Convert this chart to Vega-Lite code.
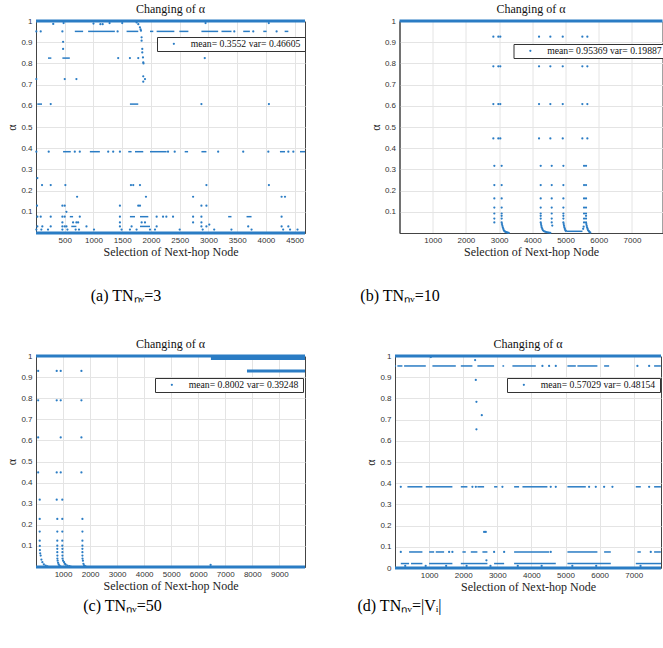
{
"$schema": "https://vega.github.io/schema/vega-lite/v6.json",
"padding": {"left": 5, "top": 2, "right": 0, "bottom": 0},
"background": "white",
"config": {
 "view": {"stroke": "#444", "strokeWidth": 1},
 "axis": {"grid": true, "gridColor": "#e4e4e4", "gridWidth": 1, "domain": true, "domainColor": "#444", "domainWidth": 1, "ticks": false, "labelFont": "Liberation Sans", "labelFontSize": 8, "labelColor": "#333", "labelPadding": 3, "labelOverlap": false, "labelFlush": false, "labelSeparation": 0, "titleFont": "Liberation Serif", "titleFontSize": 12, "titleFontWeight": "normal", "titleColor": "#222"},
 "axisQuantitative": {"labelOverlap": false},
 "axisX": {"titlePadding": 2, "format": "d", "labelOverlap": false},
 "axisY": {"titlePadding": 2, "labelOverlap": false, "labelPadding": 4},
 "legend": {"strokeColor": "#333", "fillColor": "white", "padding": 2, "labelFont": "Liberation Serif", "labelFontSize": 9.7, "labelColor": "#111", "symbolType": "circle", "symbolSize": 5, "symbolStrokeWidth": 0, "symbolOffset": 10, "labelOffset": 12},
 "title": {"font": "Liberation Serif", "fontSize": 12, "fontWeight": "normal", "color": "#111", "offset": 1}
},
"datasets": {
 "a_b": [{"x":0,"x2":4680,"y":1},{"x":0,"x2":4680,"y":0}],
 "a_r": [
  {"x":675,"x2":820,"y":0.951},{"x":907,"x2":1372,"y":0.951},{"x":1576,"x2":1779,"y":0.951},{"x":1983,"x2":2041,"y":0.951},{"x":2099,"x2":2407,"y":0.951},{"x":2494,"x2":2651,"y":0.951},{"x":2878,"x2":3169,"y":0.951},{"x":3227,"x2":3401,"y":0.951},{"x":3605,"x2":3721,"y":0.951},{"x":3954,"x2":4012,"y":0.951},{"x":4326,"x2":4390,"y":0.951},
  {"x":471,"x2":605,"y":0.3835},{"x":937,"x2":1111,"y":0.3835},{"x":1605,"x2":1663,"y":0.3835},{"x":1722,"x2":1866,"y":0.3835},{"x":1983,"x2":2273,"y":0.3835},{"x":2587,"x2":2646,"y":0.3835},{"x":2878,"x2":2965,"y":0.3835},{"x":4244,"x2":4332,"y":0.3835},{"x":4593,"x2":4680,"y":0.3835},
  {"x":209,"x2":267,"y":0.825},{"x":459,"x2":588,"y":0.825},
  {"x":23,"x2":105,"y":0.608},{"x":1634,"x2":1779,"y":0.608},
  {"x":588,"x2":645,"y":0.077},{"x":1634,"x2":1722,"y":0.077},{"x":1809,"x2":1954,"y":0.077},{"x":3343,"x2":3401,"y":0.077},{"x":3663,"x2":3750,"y":0.077},
  {"x":614,"x2":703,"y":0.031},{"x":1809,"x2":1983,"y":0.031}
 ],
 "a_p": [
  {"x":300,"y":0.986},{"x":480,"y":0.99},{"x":1000,"y":0.988},{"x":1120,"y":0.985},{"x":1160,"y":0.985},{"x":1280,"y":0.99},{"x":1500,"y":0.99},{"x":2950,"y":0.99},{"x":4050,"y":0.99},
  {"x":6,"y":0.951},{"x":82,"y":0.951},{"x":459,"y":0.951},{"x":1420,"y":0.951},{"x":3450,"y":0.951},{"x":3780,"y":0.951},{"x":4186,"y":0.951},
  {"x":1750,"y":0.993},{"x":1780,"y":0.985},{"x":1808,"y":0.97},{"x":1820,"y":0.96},{"x":1826,"y":0.954},{"x":1837,"y":0.923},{"x":1837,"y":0.907},{"x":1849,"y":0.868},{"x":1849,"y":0.852},{"x":1861,"y":0.828},{"x":1866,"y":0.805},{"x":1870,"y":0.8},{"x":1866,"y":0.739},{"x":1896,"y":0.726},{"x":1866,"y":0.714},
  {"x":471,"y":0.902},{"x":471,"y":0.868},
  {"x":1430,"y":0.825},{"x":1634,"y":0.825},{"x":1779,"y":0.825},{"x":2936,"y":0.825},
  {"x":6,"y":0.726},{"x":500,"y":0.726},{"x":703,"y":0.726},
  {"x":256,"y":0.608},{"x":2878,"y":0.608},{"x":4052,"y":0.608},
  {"x":6,"y":0.3835},{"x":221,"y":0.3835},{"x":675,"y":0.3835},{"x":762,"y":0.3835},{"x":1256,"y":0.3835},{"x":1343,"y":0.3835},{"x":1460,"y":0.3835},{"x":2297,"y":0.3835},{"x":2413,"y":0.3835},{"x":3169,"y":0.3835},{"x":3605,"y":0.3835},{"x":4042,"y":0.3835},{"x":4390,"y":0.3835},{"x":4477,"y":0.3835},
  {"x":23,"y":0.259},
  {"x":105,"y":0.226},{"x":256,"y":0.226},{"x":511,"y":0.226},{"x":1652,"y":0.226},{"x":1692,"y":0.226},{"x":1809,"y":0.226},{"x":2965,"y":0.226},{"x":4052,"y":0.226},
  {"x":715,"y":0.171},{"x":1913,"y":0.171},{"x":2733,"y":0.171},{"x":4273,"y":0.171},{"x":4332,"y":0.171},
  {"x":17,"y":0.129},{"x":459,"y":0.129},{"x":500,"y":0.129},{"x":1460,"y":0.129},{"x":1779,"y":0.129},{"x":1809,"y":0.129},{"x":2878,"y":0.129},{"x":2965,"y":0.129},
  {"x":529,"y":0.1},
  {"x":23,"y":0.077},{"x":82,"y":0.077},{"x":256,"y":0.077},{"x":459,"y":0.077},{"x":500,"y":0.077},{"x":762,"y":0.077},{"x":1460,"y":0.077},{"x":2099,"y":0.077},{"x":2210,"y":0.077},{"x":2268,"y":0.077},{"x":2384,"y":0.077},{"x":2733,"y":0.077},{"x":2878,"y":0.077},{"x":4273,"y":0.077},
  {"x":459,"y":0.05},{"x":645,"y":0.05},{"x":703,"y":0.05},{"x":733,"y":0.05},{"x":1460,"y":0.05},{"x":1838,"y":0.05},{"x":1896,"y":0.05},{"x":2733,"y":0.05},{"x":2878,"y":0.05},{"x":3015,"y":0.04},
  {"x":23,"y":0.031},{"x":110,"y":0.031},{"x":256,"y":0.031},{"x":459,"y":0.031},{"x":500,"y":0.031},{"x":530,"y":0.031},{"x":878,"y":0.031},{"x":1460,"y":0.031},{"x":1663,"y":0.031},{"x":2099,"y":0.031},{"x":2878,"y":0.031},{"x":2965,"y":0.031},{"x":3692,"y":0.031},{"x":4273,"y":0.031},{"x":4390,"y":0.031},
  {"x":6,"y":0.016},{"x":93,"y":0.016},{"x":209,"y":0.016},{"x":459,"y":0.016},{"x":547,"y":0.016},{"x":690,"y":0.016},{"x":748,"y":0.016},{"x":1009,"y":0.016},{"x":1489,"y":0.016},{"x":1634,"y":0.016},{"x":1750,"y":0.016},{"x":1983,"y":0.016},{"x":2070,"y":0.016},{"x":2500,"y":0.016},{"x":2900,"y":0.016},{"x":3100,"y":0.016},{"x":3400,"y":0.016},{"x":3750,"y":0.016},{"x":4300,"y":0.016},{"x":4420,"y":0.016},{"x":4550,"y":0.016}
 ],
 "b_b": [{"x":0,"x2":7920,"y":1}],
 "b_r": [{"x":5030,"x2":5510,"y":0.008}],
 "b_p": [
  {"x":2826,"y":0.926},{"x":2976,"y":0.926},{"x":3036,"y":0.926},{"x":4202,"y":0.926},{"x":4543,"y":0.926},{"x":4916,"y":0.926},{"x":5506,"y":0.926},{"x":5657,"y":0.926},
  {"x":2826,"y":0.786},{"x":2976,"y":0.786},{"x":3036,"y":0.786},{"x":4202,"y":0.786},{"x":4543,"y":0.786},{"x":4916,"y":0.786},{"x":5506,"y":0.786},{"x":5657,"y":0.786},
  {"x":2826,"y":0.608},{"x":2976,"y":0.608},{"x":3036,"y":0.608},{"x":4202,"y":0.608},{"x":4543,"y":0.608},{"x":4916,"y":0.608},{"x":5506,"y":0.608},{"x":5657,"y":0.608},
  {"x":2826,"y":0.446},{"x":2976,"y":0.446},{"x":3036,"y":0.446},{"x":4202,"y":0.446},{"x":4543,"y":0.446},{"x":4916,"y":0.446},{"x":5506,"y":0.446},{"x":5657,"y":0.446},
  {"x":2856,"y":0.317},{"x":3077,"y":0.317},{"x":4252,"y":0.317},{"x":4584,"y":0.317},{"x":4935,"y":0.317},{"x":5557,"y":0.317},{"x":5617,"y":0.317},
  {"x":2856,"y":0.226},{"x":3077,"y":0.226},{"x":4252,"y":0.226},{"x":4584,"y":0.226},{"x":4935,"y":0.226},{"x":5557,"y":0.226},{"x":5617,"y":0.226},
  {"x":2856,"y":0.163},{"x":3077,"y":0.163},{"x":4252,"y":0.163},{"x":4584,"y":0.163},{"x":4935,"y":0.163},{"x":5557,"y":0.163},{"x":5617,"y":0.163},
  {"x":2856,"y":0.12},{"x":3077,"y":0.12},{"x":4252,"y":0.12},{"x":4584,"y":0.12},{"x":4935,"y":0.12},{"x":5557,"y":0.12},{"x":5617,"y":0.12},
  {"x":2856,"y":0.092},{"x":3077,"y":0.092},{"x":4252,"y":0.092},{"x":4584,"y":0.092},{"x":4935,"y":0.092},{"x":5557,"y":0.092},{"x":5617,"y":0.092},
  {"x":3077,"y":0.081},{"x":4252,"y":0.081},{"x":4935,"y":0.081},{"x":5617,"y":0.081},
  {"x":2856,"y":0.068},{"x":3077,"y":0.068},{"x":4252,"y":0.068},{"x":4584,"y":0.068},{"x":4935,"y":0.068},{"x":5557,"y":0.068},{"x":5617,"y":0.068},
  {"x":2856,"y":0.05},{"x":3077,"y":0.05},{"x":4252,"y":0.05},{"x":4584,"y":0.05},{"x":4935,"y":0.05},{"x":5557,"y":0.05},{"x":5617,"y":0.05},
  {"x":3087,"y":0.042},{"x":3097,"y":0.034},{"x":3112,"y":0.026},{"x":3127,"y":0.019},{"x":3142,"y":0.013},{"x":3157,"y":0.009},{"x":3182,"y":0.006},{"x":3208,"y":0.004},{"x":3233,"y":0.003},{"x":3258,"y":0.002},{"x":3290,"y":0.001},
  {"x":4262,"y":0.042},{"x":4272,"y":0.034},{"x":4282,"y":0.026},{"x":4300,"y":0.019},{"x":4320,"y":0.013},{"x":4345,"y":0.009},{"x":4383,"y":0.006},{"x":4420,"y":0.004},{"x":4460,"y":0.003},{"x":4500,"y":0.002},{"x":4540,"y":0.001},
  {"x":4600,"y":0.035},
  {"x":4945,"y":0.042},{"x":4955,"y":0.034},{"x":4965,"y":0.026},{"x":4980,"y":0.019},{"x":4995,"y":0.013},{"x":5010,"y":0.01},
  {"x":5530,"y":0.02},{"x":5545,"y":0.03},
  {"x":5627,"y":0.042},{"x":5637,"y":0.034},{"x":5650,"y":0.026},{"x":5665,"y":0.019},{"x":5680,"y":0.013},{"x":5700,"y":0.009},{"x":5720,"y":0.005},{"x":5745,"y":0.002}
 ],
 "c_b": [{"x":0,"x2":9950,"y":1},{"x":6470,"x2":9950,"y":0.988},{"x":7804,"x2":9950,"y":0.929},{"x":0,"x2":9950,"y":0}],
 "c_p": [
  {"x":80,"y":0.929},{"x":766,"y":0.929},{"x":914,"y":0.929},{"x":1680,"y":0.929},
  {"x":80,"y":0.79},{"x":766,"y":0.79},{"x":914,"y":0.79},{"x":1680,"y":0.79},
  {"x":80,"y":0.614},{"x":914,"y":0.614},{"x":1680,"y":0.614},
  {"x":80,"y":0.448},{"x":766,"y":0.448},{"x":914,"y":0.448},{"x":1680,"y":0.448},
  {"x":137,"y":0.319},{"x":766,"y":0.319},{"x":973,"y":0.319},
  {"x":137,"y":0.228},{"x":788,"y":0.228},{"x":973,"y":0.228},{"x":1717,"y":0.228},
  {"x":137,"y":0.168},{"x":788,"y":0.168},{"x":973,"y":0.168},{"x":1717,"y":0.168},
  {"x":137,"y":0.125},{"x":788,"y":0.125},{"x":973,"y":0.125},{"x":1717,"y":0.125},
  {"x":788,"y":0.101},{"x":973,"y":0.101},{"x":1717,"y":0.101},
  {"x":788,"y":0.086},{"x":977,"y":0.086},{"x":1717,"y":0.086},
  {"x":788,"y":0.07},{"x":977,"y":0.07},{"x":1717,"y":0.07},
  {"x":791,"y":0.054},{"x":977,"y":0.054},{"x":1717,"y":0.054},
  {"x":140,"y":0.1},{"x":145,"y":0.08},{"x":155,"y":0.065},{"x":173,"y":0.054},{"x":200,"y":0.035},{"x":236,"y":0.023},{"x":290,"y":0.013},{"x":357,"y":0.007},{"x":420,"y":0.003},
  {"x":791,"y":0.04},{"x":800,"y":0.03},{"x":816,"y":0.02},{"x":840,"y":0.012},{"x":870,"y":0.006},{"x":910,"y":0.002},
  {"x":980,"y":0.04},{"x":1000,"y":0.03},{"x":1038,"y":0.023},{"x":1070,"y":0.015},{"x":1100,"y":0.011},{"x":1162,"y":0.007},{"x":1230,"y":0.004},{"x":1285,"y":0.002},
  {"x":1720,"y":0.04},{"x":1735,"y":0.03},{"x":1754,"y":0.015},{"x":1780,"y":0.008},{"x":1804,"y":0.004},{"x":1840,"y":0.002},
  {"x":6459,"y":0.01}
 ],
 "d_b": [{"x":0,"x2":7800,"y":1},{"x":0,"x2":7800,"y":0}],
 "d_r": [
  {"x":0,"x2":30,"y":0.953},{"x":70,"x2":217,"y":0.953},{"x":267,"x2":903,"y":0.953},{"x":1097,"x2":1783,"y":0.953},{"x":1930,"x2":2270,"y":0.953},{"x":2416,"x2":2906,"y":0.953},{"x":3150,"x2":3200,"y":0.953},{"x":3443,"x2":4129,"y":0.953},{"x":5056,"x2":5302,"y":0.953},{"x":5349,"x2":5935,"y":0.953},{"x":6132,"x2":6279,"y":0.953},{"x":7598,"x2":7795,"y":0.953},
  {"x":364,"x2":804,"y":0.383},{"x":902,"x2":1683,"y":0.383},{"x":1930,"x2":2123,"y":0.383},{"x":2416,"x2":2613,"y":0.383},{"x":2906,"x2":3003,"y":0.383},{"x":3493,"x2":3639,"y":0.383},{"x":3737,"x2":4469,"y":0.383},{"x":5056,"x2":5595,"y":0.383},{"x":7061,"x2":7208,"y":0.383},{"x":7598,"x2":7795,"y":0.383},
  {"x":413,"x2":804,"y":0.0756},{"x":1000,"x2":1147,"y":0.0756},{"x":1196,"x2":1440,"y":0.0756},{"x":1977,"x2":2075,"y":0.0756},{"x":2223,"x2":2416,"y":0.0756},{"x":2563,"x2":2710,"y":0.0756},{"x":3493,"x2":4519,"y":0.0756},{"x":5056,"x2":5935,"y":0.0756},{"x":6132,"x2":6328,"y":0.0756},{"x":7108,"x2":7208,"y":0.0756},{"x":7598,"x2":7795,"y":0.0756},
  {"x":170,"x2":413,"y":0.021},{"x":470,"x2":804,"y":0.021},{"x":1000,"x2":1683,"y":0.021},{"x":1930,"x2":2710,"y":0.021},{"x":2906,"x2":3200,"y":0.021},{"x":3493,"x2":4715,"y":0.021},{"x":5056,"x2":6328,"y":0.021},{"x":7061,"x2":7800,"y":0.021}
 ],
 "d_p": [
  {"x":4323,"y":0.953},{"x":4519,"y":0.953},{"x":4715,"y":0.953},{"x":7108,"y":0.953},{"x":7452,"y":0.953},
  {"x":170,"y":0.383},{"x":2270,"y":0.383},{"x":2370,"y":0.383},{"x":3150,"y":0.383},{"x":4567,"y":0.383},{"x":4715,"y":0.383},{"x":5692,"y":0.383},{"x":5888,"y":0.383},{"x":6132,"y":0.383},{"x":6376,"y":0.383},{"x":7452,"y":0.383},
  {"x":170,"y":0.0756},{"x":1587,"y":0.0756},{"x":1683,"y":0.0756},{"x":2906,"y":0.0756},{"x":3200,"y":0.0756},{"x":4567,"y":0.0756},{"x":7500,"y":0.0756},
  {"x":1050,"y":0.995},{"x":2349,"y":0.981},{"x":2369,"y":0.887},{"x":2388,"y":0.784},{"x":2545,"y":0.721},{"x":2388,"y":0.654},{"x":2613,"y":0.17},{"x":2662,"y":0.17},{"x":2681,"y":0.036},
  {"x":300,"y":0.01},{"x":900,"y":0.01},{"x":1500,"y":0.01},{"x":2100,"y":0.01},{"x":2800,"y":0.01},{"x":3600,"y":0.01},{"x":4300,"y":0.01},{"x":5200,"y":0.01},{"x":5900,"y":0.01},{"x":7200,"y":0.01}
 ]
},
"resolve": {"scale": {"x": "independent", "y": "independent", "color": "independent"}, "legend": {"color": "independent"}, "axis": {"x": "independent", "y": "independent"}},
"spacing": 31,
"vconcat": [
 {"spacing": 28,
  "resolve": {"scale": {"x": "independent", "y": "independent", "color": "independent"}, "legend": {"color": "independent"}},
  "vconcat": [
  {"spacing": 61.5,
   "resolve": {"scale": {"x": "independent", "y": "independent", "color": "independent"}, "legend": {"color": "independent"}},
   "hconcat": [
   {"width": 269, "height": 212,
    "title": {"text": "Changing of α"},
    "encoding": {
     "x": {"field": "x", "type": "quantitative", "scale": {"domain": [0, 4680], "nice": false, "zero": false}, "axis": {"values": [500,1000,1500,2000,2500,3000,3500,4000,4500], "format": "d", "labelOverlap": false, "title": "Selection of Next-hop Node"}},
     "y": {"field": "y", "type": "quantitative", "scale": {"domain": [0, 1], "nice": false}, "axis": {"values": [0.1,0.2,0.3,0.4,0.5,0.6,0.7,0.8,0.9,1], "format": "~g", "labelOverlap": false, "title": "α"}}},
    "layer": [
     {"data": {"name": "a_b"}, "mark": {"type": "rule", "color": "#2a7cc4", "strokeWidth": 3}, "encoding": {"x2": {"field": "x2"}}},
     {"data": {"name": "a_r"}, "mark": {"type": "rule", "color": "#2a7cc4", "strokeWidth": 1.5}, "encoding": {"x2": {"field": "x2"}}},
     {"data": {"name": "a_p"}, "mark": {"type": "circle", "size": 5, "opacity": 1},
      "encoding": {"color": {"datum": "mean= 0.3552  var= 0.46605", "scale": {"range": ["#2a7cc4"]}, "legend": {"orient": "none", "legendX": 121, "legendY": 16, "title": null}}}}
    ]},
   {"width": 263, "height": 212,
    "title": {"text": "Changing of α"},
    "encoding": {
     "x": {"field": "x", "type": "quantitative", "scale": {"domain": [0, 7920], "nice": false, "zero": false}, "axis": {"values": [1000,2000,3000,4000,5000,6000,7000], "format": "d", "labelOverlap": false, "title": "Selection of Next-hop Node"}},
     "y": {"field": "y", "type": "quantitative", "scale": {"domain": [0, 1], "nice": false}, "axis": {"values": [0.1,0.2,0.3,0.4,0.5,0.6,0.7,0.8,0.9,1], "format": "~g", "labelOverlap": false, "title": "α"}}},
    "layer": [
     {"data": {"name": "b_b"}, "mark": {"type": "rule", "color": "#2a7cc4", "strokeWidth": 3}, "encoding": {"x2": {"field": "x2"}}},
     {"data": {"name": "b_r"}, "mark": {"type": "rule", "color": "#2a7cc4", "strokeWidth": 1.5}, "encoding": {"x2": {"field": "x2"}}},
     {"data": {"name": "b_p"}, "mark": {"type": "circle", "size": 5, "opacity": 1},
      "encoding": {"color": {"datum": "mean= 0.95369  var= 0.19887", "scale": {"range": ["#2a7cc4"]}, "legend": {"orient": "none", "legendX": 114, "legendY": 23, "title": null}}}}
    ]}
  ]},
  {"spacing": 124,
   "hconcat": [
    {"width": 180, "height": 20, "view": {"stroke": null}, "data": {"values": [{"caption": "(a) TNₙᵥ=3"}]},
     "mark": {"type": "text", "font": "Liberation Serif", "fontSize": 16, "color": "#000", "align": "center", "baseline": "middle"},
     "encoding": {"text": {"field": "caption"}}},
    {"width": 120, "height": 20, "view": {"stroke": null}, "data": {"values": [{"caption": "(b) TNₙᵥ=10"}]},
     "mark": {"type": "text", "font": "Liberation Serif", "fontSize": 16, "color": "#000", "align": "center", "baseline": "middle"},
     "encoding": {"text": {"field": "caption"}}}
  ]}
 ]},
 {"spacing": 3,
  "resolve": {"scale": {"x": "independent", "y": "independent", "color": "independent"}, "legend": {"color": "independent"}},
  "vconcat": [
  {"spacing": 57,
   "resolve": {"scale": {"x": "independent", "y": "independent", "color": "independent"}, "legend": {"color": "independent"}},
   "hconcat": [
   {"width": 269, "height": 211,
    "title": {"text": "Changing of α"},
    "encoding": {
     "x": {"field": "x", "type": "quantitative", "scale": {"domain": [0, 9950], "nice": false, "zero": false}, "axis": {"values": [1000,2000,3000,4000,5000,6000,7000,8000,9000], "format": "d", "labelOverlap": false, "title": "Selection of Next-hop Node"}},
     "y": {"field": "y", "type": "quantitative", "scale": {"domain": [0, 1], "nice": false}, "axis": {"values": [0.1,0.2,0.3,0.4,0.5,0.6,0.7,0.8,0.9,1], "format": "~g", "labelOverlap": false, "title": "α"}}},
    "layer": [
     {"data": {"name": "c_b"}, "mark": {"type": "rule", "color": "#2a7cc4", "strokeWidth": 3}, "encoding": {"x2": {"field": "x2"}}},
     {"data": {"name": "c_p"}, "mark": {"type": "circle", "size": 5, "opacity": 1},
      "encoding": {"color": {"datum": "mean= 0.8002  var= 0.39248", "scale": {"range": ["#2a7cc4"]}, "legend": {"orient": "none", "legendX": 119, "legendY": 22, "title": null}}}}
    ]},
   {"width": 266, "height": 212,
    "title": {"text": "Changing of α"},
    "encoding": {
     "x": {"field": "x", "type": "quantitative", "scale": {"domain": [0, 7800], "nice": false, "zero": false}, "axis": {"values": [1000,2000,3000,4000,5000,6000,7000], "format": "d", "labelOverlap": false, "title": "Selection of Next-hop Node"}},
     "y": {"field": "y", "type": "quantitative", "scale": {"domain": [0, 1], "nice": false}, "axis": {"values": [0,0.1,0.2,0.3,0.4,0.5,0.6,0.7,0.8,0.9,1], "format": "~g", "labelOverlap": false, "title": "α"}}},
    "layer": [
     {"data": {"name": "d_b"}, "mark": {"type": "rule", "color": "#2a7cc4", "strokeWidth": 3}, "encoding": {"x2": {"field": "x2"}}},
     {"data": {"name": "d_r"}, "mark": {"type": "rule", "color": "#2a7cc4", "strokeWidth": 1.5}, "encoding": {"x2": {"field": "x2"}}},
     {"data": {"name": "d_p"}, "mark": {"type": "circle", "size": 5, "opacity": 1},
      "encoding": {"color": {"datum": "mean= 0.57029  var= 0.48154", "scale": {"range": ["#2a7cc4"]}, "legend": {"orient": "none", "legendX": 112, "legendY": 22, "title": null}}}}
    ]}
  ]},
  {"spacing": 130.5,
   "hconcat": [
    {"width": 173, "height": 20, "view": {"stroke": null}, "data": {"values": [{"caption": "(c) TNₙᵥ=50"}]},
     "mark": {"type": "text", "font": "Liberation Serif", "fontSize": 16, "color": "#000", "align": "center", "baseline": "middle"},
     "encoding": {"text": {"field": "caption"}}},
    {"width": 120, "height": 20, "view": {"stroke": null}, "data": {"values": [{"caption": "(d) TNₙᵥ=|Vᵢ|"}]},
     "mark": {"type": "text", "font": "Liberation Serif", "fontSize": 16, "color": "#000", "align": "center", "baseline": "middle"},
     "encoding": {"text": {"field": "caption"}}}
  ]}
 ]}
]
}
